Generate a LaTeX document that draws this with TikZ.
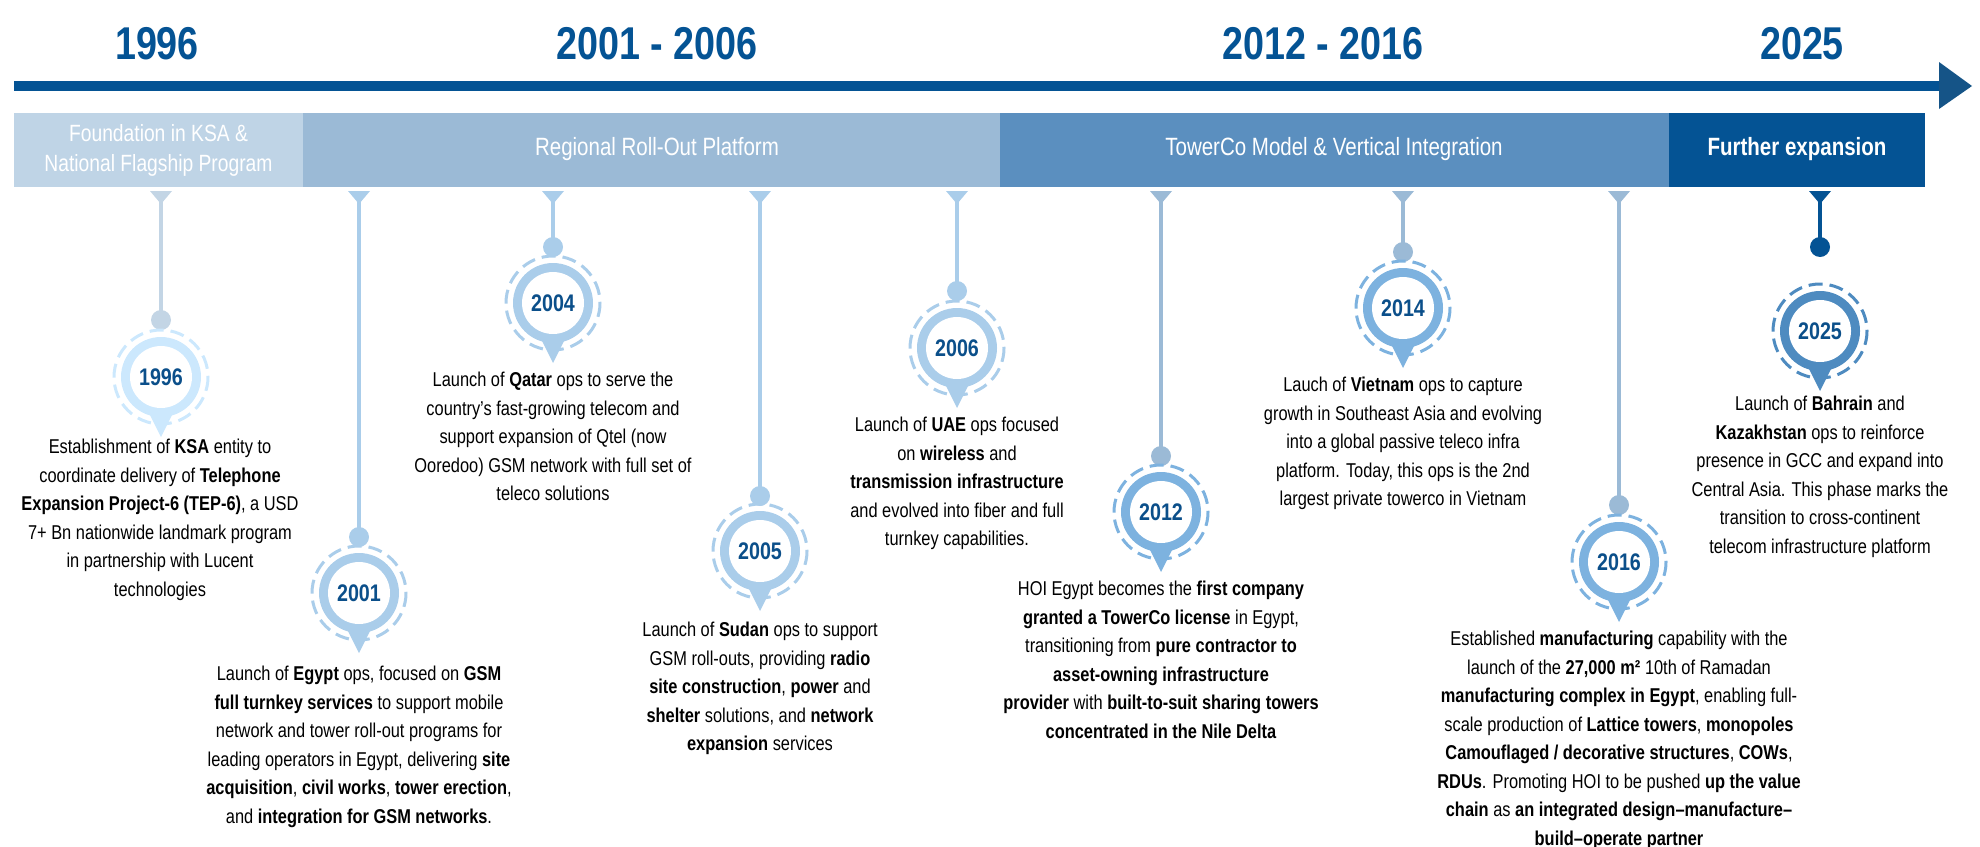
\documentclass[tikz,border=0pt]{standalone}
\usepackage{fontspec}
\setmainfont{Liberation Sans}[FakeStretch=0.82]
\usetikzlibrary{positioning}

\definecolor{axisblue}{RGB}{4,83,148}
\definecolor{headblue}{RGB}{21,84,135}
\definecolor{bandA}{RGB}{191,212,230}
\definecolor{bandB}{RGB}{155,186,214}
\definecolor{bandC}{RGB}{91,143,191}
\definecolor{bandD}{RGB}{4,83,148}
\definecolor{ringA}{RGB}{204,232,253}
\definecolor{ringB}{RGB}{170,205,234}
\definecolor{ringC}{RGB}{125,178,223}
\definecolor{ringD}{RGB}{78,139,192}
\definecolor{stemA}{RGB}{195,213,229}
\definecolor{yeartext}{RGB}{11,79,138}

\tikzset{every picture/.style={line width=0.75pt}}
\tikzset{
  header/.style={font=\fontsize{46}{50}\selectfont\bfseries, text=axisblue},
  bandtext/.style={font=\fontsize{25}{30}\selectfont, text=white, align=center},
  desc/.style={anchor=north, align=center, inner sep=0pt, font=\fontsize{20}{28.5}\selectfont},
  yearlabel/.style={font=\fontsize{24}{26}\selectfont\bfseries, text=yeartext}
}

% pin: name, x, dot y, centre y, stem colour, ring colour
\newcommand{\pin}[6]{%
  \fill[#5] (#2-11,191) -- (#2+11,191) -- (#2,204) -- cycle;
  \draw[#5, line width=3.5pt] (#2,200) -- (#2,#3);
  \fill[#5] (#2,#3) circle (10);
  \draw[#6, line width=3pt, dash pattern=on 14pt off 7pt] (#2,#4) circle (47);
  \fill[#6] (#2-16,#4+28) -- (#2+16,#4+28) -- (#2,#4+60) -- cycle;
  \fill[#6] (#2,#4) circle (40);
  \fill[white] (#2,#4) circle (31);
  \node[yearlabel] (p#1) at (#2,#4) {#1};
}

\begin{document}
\begin{tikzpicture}[x=1pt,y=1pt,yscale=-1,xscale=1]
	\useasboundingbox (0,0) rectangle (1980,846);

	%Headers
	\node[header] (h1) at (157,44) {1996};
	\node[header] (h2) at (657,44) {2001 - 2006};
	\node[header] (h3) at (1323,44) {2012 - 2016};
	\node[header] (h4) at (1802,44) {2025};

	%Axis arrow
	\draw[axisblue, line width=10pt] (14,86) -- (1940,86);
	\fill[headblue] (1939,62) -- (1972,86) -- (1939,109) -- cycle;

	%Bands
	\fill[bandA] (14,113) rectangle (303,187);
	\fill[bandB] (303,113) rectangle (1000,187);
	\fill[bandC] (1000,113) rectangle (1669,187);
	\fill[bandD] (1669,113) rectangle (1925,187);
	\node[bandtext, font=\fontsize{23.5}{30}\selectfont] (b1) at (158.5,150) {Foundation in KSA \&\\National Flagship Program};
	\node[bandtext] (b2) at (657,149) {Regional Roll-Out Platform};
	\node[bandtext] (b3) at (1334,149) {TowerCo Model \& Vertical Integration};
	\node[bandtext, font=\fontsize{25}{30}\selectfont\bfseries] (b4) at (1797,149) {Further expansion};

	%Pins
	\pin{1996}{161}{320}{377}{stemA}{ringA}
	\pin{2001}{359}{537}{593}{ringB}{ringB}
	\pin{2004}{553}{247}{303}{ringB}{ringB}
	\pin{2005}{760}{496}{551}{ringB}{ringB}
	\pin{2006}{957}{291}{348}{ringB}{ringB}
	\pin{2012}{1161}{456}{512}{bandB}{ringC}
	\pin{2014}{1403}{252}{308}{bandB}{ringC}
	\pin{2016}{1619}{505}{562}{bandB}{ringC}
	\pin{2025}{1820}{247}{331}{bandD}{ringD}

	% Text Nodes
	\node[desc] (t1996) at (160,439) {Establishment of \textbf{KSA} entity to\\coordinate delivery of \textbf{Telephone}\\\textbf{Expansion Project-6 (TEP-6)}, a USD\\7+ Bn nationwide landmark program\\in partnership with Lucent\\technologies};
	\node[desc] (t2001) at (359,666) {Launch of \textbf{Egypt} ops, focused on \textbf{GSM}\\\textbf{full turnkey services} to support mobile\\network and tower roll-out programs for\\leading operators in Egypt, delivering \textbf{site}\\\textbf{acquisition}, \textbf{civil works}, \textbf{tower erection},\\and \textbf{integration for GSM networks}.};
	\node[desc] (t2004) at (553,372) {Launch of \textbf{Qatar} ops to serve the\\country’s fast-growing telecom and\\support expansion of Qtel (now\\Ooredoo) GSM network with full set of\\teleco solutions};
	\node[desc] (t2005) at (760,622) {Launch of \textbf{Sudan} ops to support\\GSM roll-outs, providing \textbf{radio}\\\textbf{site construction}, \textbf{power} and\\\textbf{shelter} solutions, and \textbf{network}\\\textbf{expansion} services};
	\node[desc] (t2006) at (957,417) {Launch of \textbf{UAE} ops focused\\on \textbf{wireless} and\\\textbf{transmission infrastructure}\\and evolved into fiber and full\\turnkey capabilities.};
	\node[desc] (t2012) at (1161,581) {HOI Egypt becomes the \textbf{first company}\\\textbf{granted a TowerCo license} in Egypt,\\transitioning from \textbf{pure contractor to}\\\textbf{asset-owning infrastructure}\\\textbf{provider} with \textbf{built-to-suit sharing towers}\\\textbf{concentrated in the Nile Delta}};
	\node[desc] (t2014) at (1403,377) {Lauch of \textbf{Vietnam} ops to capture\\growth in Southeast Asia and evolving\\into a global passive teleco infra\\platform. Today, this ops is the 2nd\\largest private towerco in Vietnam};
	\node[desc] (t2016) at (1619,631) {Established \textbf{manufacturing} capability with the\\launch of the \textbf{27,000 m²} 10th of Ramadan\\\textbf{manufacturing complex in Egypt}, enabling full-\\scale production of \textbf{Lattice towers}, \textbf{monopoles}\\\textbf{Camouflaged / decorative structures}, \textbf{COWs},\\\textbf{RDUs}. Promoting HOI to be pushed \textbf{up the value}\\\textbf{chain} as \textbf{an integrated design–manufacture–}\\\textbf{build–operate partner}};
	\node[desc] (t2025) at (1820,396) {Launch of \textbf{Bahrain} and\\\textbf{Kazakhstan} ops to reinforce\\presence in GCC and expand into\\Central Asia. This phase marks the\\transition to cross-continent\\telecom infrastructure platform};

\end{tikzpicture}
\end{document}
